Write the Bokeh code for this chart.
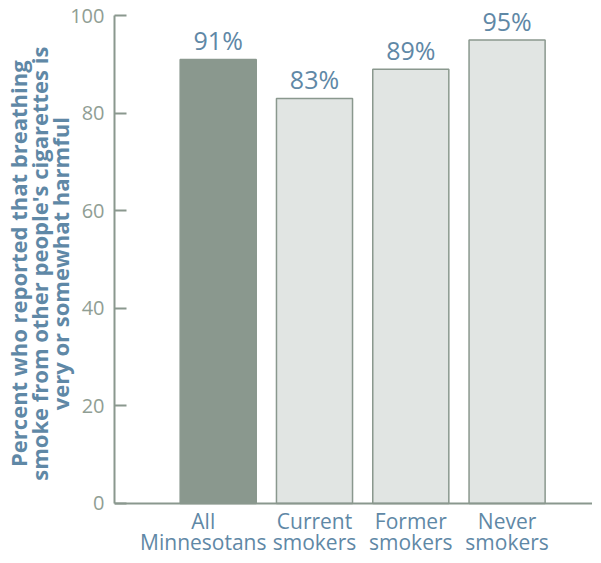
from bokeh.plotting import figure
from bokeh.models import Range1d, FixedTicker, ColumnDataSource, LabelSet, Span
from bokeh.core.properties import value
from bokeh.embed import file_html
from bokeh.resources import INLINE

categories = ["All\nMinnesotans", "Current\nsmokers", "Former\nsmokers", "Never\nsmokers"]
values = [91, 83, 89, 95]
value_labels = ["91%", "83%", "89%", "95%"]
y_ticks = [0, 20, 40, 60, 80, 100]
y_title_lines = ["Percent who reported that breathing",
                 "smoke from other people's cigarettes is",
                 "very or somewhat harmful"]

positions = list(range(1, len(categories) + 1))
# first category label is nudged left in the original to avoid crowding
label_positions = [positions[0] - 0.155] + positions[1:]
fills = ["#8a988e", "#e1e5e3", "#e1e5e3", "#e1e5e3"]
lines = ["#8a988e", "#8a988e", "#8a988e", "#8a988e"]

first_lines = [c.split("\n")[0] for c in categories]
second_lines = [c.split("\n")[1] for c in categories]

src = ColumnDataSource(dict(x=positions, top=values, label=value_labels, fill=fills, line=lines))
cat_src = ColumnDataSource(dict(x=label_positions, y=[0] * len(categories),
                                l1=first_lines, l2=second_lines))

AXIS = "#8a988e"
BLUE = "#5f88a6"
TICKC = "#909e94"

p = figure(width=592, height=555, output_backend="svg", toolbar_location=None,
           x_range=Range1d(-0.077, 4.887), y_range=Range1d(-10.656, 103.074),
           min_border_left=108, min_border_right=0, min_border_top=0, min_border_bottom=0)
p.outline_line_color = None
p.xgrid.grid_line_color = None
p.ygrid.grid_line_color = None
p.background_fill_color = "white"
p.xaxis.visible = False

p.vbar(x="x", top="top", bottom=0, width=0.79, source=src, fill_color="fill",
       line_color="line", line_width=1.5)

# baseline (x axis line)
p.add_layout(Span(location=0, dimension="width", line_color=AXIS, line_width=2))

labels = LabelSet(x="x", y="top", text="label", source=src, text_align="center",
                  text_baseline="bottom", y_offset=2, text_font=value("Open Sans"),
                  text_font_size="25px", text_color=BLUE)
p.add_layout(labels)

for col, off in (("l1", -26), ("l2", -47)):
    p.add_layout(LabelSet(x="x", y="y", text=col, source=cat_src, text_align="center",
                          text_baseline="alphabetic", y_offset=off,
                          text_font=value("Open Sans"), text_font_size="21px",
                          text_color=BLUE))

ya = p.yaxis[0]
ya.ticker = FixedTicker(ticks=y_ticks)
ya.bounds = (0, 100)
ya.axis_line_color = AXIS
ya.axis_line_width = 2
ya.major_tick_line_color = AXIS
ya.major_tick_line_width = 2
ya.major_tick_in = 12
ya.major_tick_out = 0
ya.minor_tick_line_color = None
ya.major_label_standoff = 10
ya.major_label_text_font = "Open Sans"
ya.major_label_text_font_size = "20px"
ya.major_label_text_color = TICKC
# leading no-break spaces lift the centred title to where the original sits
pad = "\u00a0" * 5
ya.axis_label = "\n".join(pad + s for s in y_title_lines)
ya.axis_label_text_font = "Open Sans"
ya.axis_label_text_font_style = "bold"
ya.axis_label_text_font_size = "22px"
ya.axis_label_text_color = BLUE
ya.axis_label_text_line_height = 0.7
ya.axis_label_standoff = -8

open("out.html", "w").write(file_html(p, INLINE))
